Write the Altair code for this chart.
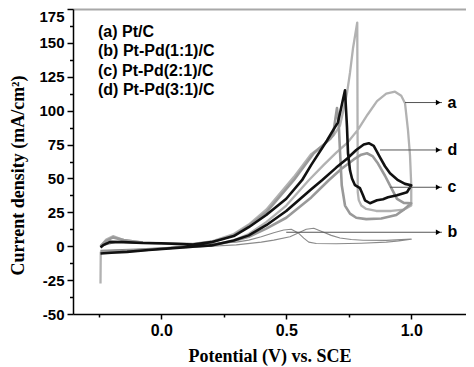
import altair as alt
import pandas as pd

# ---- data: (a) Pt/C ----
a_v = [-0.243, -0.242, -0.2, -0.137, -0.05, 0.06, 0.15, 0.2, 0.29, 0.35, 0.42, 0.5, 0.59, 0.65, 0.7,
       0.743, 0.787, 0.825, 0.863, 0.9, 0.935, 0.96, 0.975, 0.987, 0.995, 1.0, 1.0,
       0.97, 0.92, 0.86, 0.82, 0.8, 0.79, 0.786, 0.784, 0.767, 0.755, 0.743, 0.727, 0.715, 0.69,
       0.65, 0.6, 0.53, 0.42, 0.35, 0.29, 0.2, 0.127, 0.0, -0.073, -0.15, -0.193, -0.22, -0.243]
a_i = [-27.5, -4.5, -4.2, -3.8, -2.6, -1.0, 0.0, 0.8, 4.4, 9.0, 17.7, 30.0, 48.7, 60.0, 69.0,
       76.0, 86.0, 97.0, 107.0, 112.5, 114.0, 111.0, 105.5, 85.5, 67.0, 45.0, 30.0,
       27.0, 26.0, 26.0, 27.5, 30.0, 34.0, 40.0, 165.0, 146.0, 128.0, 113.0, 99.0, 89.0, 82.0,
       75.0, 68.0, 51.0, 27.0, 16.0, 9.0, 3.5, 1.8, 2.2, 2.8, 4.5, 7.4, 5.0, 0.0]

# ---- (b) Pt-Pd(1:1)/C ----
b_v = [-0.243, -0.1, 0.0, 0.1, 0.2, 0.3, 0.4, 0.45, 0.515, 0.55, 0.58, 0.61, 0.647, 0.68, 0.715,
       0.76, 0.807, 0.9, 1.0,
       0.95, 0.9, 0.8, 0.7, 0.62, 0.59, 0.57, 0.55, 0.52, 0.49, 0.45, 0.4, 0.35, 0.3, 0.2, 0.1,
       0.0, -0.1, -0.18, -0.243]
b_i = [-3.0, -2.0, -1.2, -0.5, 0.0, 1.0, 3.0, 4.5, 7.0, 10.0, 12.5, 13.3, 10.5, 8.0, 6.1,
       5.0, 4.4, 4.3, 5.2,
       3.8, 3.0, 2.2, 1.8, 2.0, 3.0, 6.0, 9.5, 12.5, 12.0, 10.0, 7.0, 4.5, 3.0, 2.0, 1.5,
       1.8, 2.2, 3.0, 0.0]

# ---- (c) Pt-Pd(2:1)/C ----
c_v = [-0.243, -0.2, -0.137, -0.05, 0.06, 0.15, 0.2, 0.29, 0.35, 0.42, 0.5, 0.6, 0.67, 0.72, 0.77,
       0.8, 0.823, 0.845, 0.867, 0.895, 0.92, 0.943, 0.97, 1.0,
       0.97, 0.94, 0.88, 0.82, 0.78, 0.755, 0.735, 0.722, 0.715, 0.71, 0.703, 0.695, 0.687, 0.675,
       0.61, 0.53, 0.42, 0.35, 0.29, 0.2, 0.127, 0.0, -0.073, -0.15, -0.193, -0.22, -0.243]
c_i = [-4.0, -3.8, -3.4, -2.4, -1.0, -0.2, 0.5, 3.8, 7.0, 13.0, 21.0, 36.0, 48.7, 57.0, 64.0,
       67.5, 68.6, 66.5, 61.0, 52.0, 43.0, 35.0, 32.0, 31.7,
       27.0, 23.0, 20.5, 20.0, 21.0, 24.0, 30.0, 45.0, 70.0, 90.0, 102.0, 92.0, 82.0, 79.0,
       68.6, 48.7, 25.0, 15.0, 8.0, 3.0, 1.5, 2.0, 2.6, 4.5, 6.5, 4.0, 0.0]

# ---- (d) Pt-Pd(3:1)/C ----
d_v = [-0.243, -0.2, -0.137, -0.05, 0.06, 0.15, 0.2, 0.29, 0.35, 0.42, 0.5, 0.6, 0.643, 0.7, 0.743,
       0.78, 0.81, 0.83, 0.85, 0.875, 0.895, 0.915, 0.947, 0.975, 1.0,
       0.983, 0.943, 0.907, 0.887, 0.863, 0.835, 0.815, 0.807, 0.795, 0.775, 0.763, 0.755, 0.747,
       0.743, 0.735, 0.707, 0.687, 0.663, 0.6, 0.563, 0.5, 0.42, 0.35, 0.29, 0.2, 0.127, 0.0,
       -0.073, -0.15, -0.205, -0.23, -0.243]
d_i = [-5.4, -4.8, -4.2, -2.8, -1.2, 0.0, 0.6, 4.2, 8.0, 15.5, 26.0, 42.0, 48.7, 58.0, 64.5,
       71.0, 75.0, 76.0, 74.0, 65.6, 59.0, 53.8, 48.7, 46.0, 45.0,
       39.8, 37.6, 36.1, 34.7, 33.9, 31.7, 33.9, 37.6, 42.8, 45.0, 50.0, 56.0, 68.6,
       87.8, 115.0, 91.4, 85.5, 78.0, 60.0, 48.7, 35.0, 23.0, 14.0, 7.5, 3.0, 1.2, 2.2,
       2.4, 3.0, 3.2, 1.0, -1.0]

legend_labels = ["(a) Pt/C", "(b) Pt-Pd(1:1)/C", "(c) Pt-Pd(2:1)/C", "(d) Pt-Pd(3:1)/C"]

arrow_names = ["a", "d", "c", "b"]
arrow_level = [106.0, 71.0, 43.5, 10.3]
arrow_start = [0.975, 0.875, 0.915, 0.50]
arrow_tip = 1.123
arrow_head = 1.108
arrow_text = 1.145

rows = []
for name, vs, cs in [("a", a_v, a_i), ("b", b_v, b_i), ("c", c_v, c_i), ("d", d_v, d_i)]:
    for k, (v, c) in enumerate(zip(vs, cs)):
        rows.append({"sample": name, "idx": k, "V": v, "I": c})
df = pd.DataFrame(rows)

adf = pd.DataFrame({"name": arrow_names, "y": arrow_level, "x0": arrow_start,
                    "x1": [arrow_tip] * 4, "xh": [arrow_head] * 4, "xt": [arrow_text] * 4})

xs = alt.Scale(domain=[-0.353, 1.219], nice=False, zero=False)
ys = alt.Scale(domain=[-50, 175], nice=False, zero=False)

SANS = "Liberation Sans"
SERIF = "Liberation Serif"

x_major = alt.Axis(orient="bottom", values=[0, 0.5, 1.0], labelExpr="format(datum.value, '.1f')",
                   labelFont=SANS, labelFontWeight="bold", labelFontSize=16, labelColor="black",
                   tickSize=5, tickWidth=1.5, tickColor="black", domainColor="black", domainWidth=1.5,
                   labelPadding=3, grid=False, title="Potential (V) vs. SCE", titleFont=SERIF,
                   titleFontSize=18, titleFontWeight="bold", titleColor="black",
                   titleY=47, titleBaseline="alphabetic")
y_major = alt.Axis(orient="left", values=[-50, -25, 0, 25, 50, 75, 100, 125, 150, 175],
                   labelExpr="'' + datum.value",
                   labelBaseline={"condition": {"test": "datum.value === 175", "value": "top"},
                                  "value": "middle"},
                   labelFont=SANS, labelFontWeight="bold", labelFontSize=15, labelColor="black",
                   tickSize=6, tickWidth=1.5, tickColor="black", domainColor="black", domainWidth=1.5,
                   labelPadding=3, grid=False, title="Current density (mA/cm²)", titleFont=SERIF,
                   titleFontSize=18, titleFontWeight="bold", titleColor="black",
                   titleX=-55, titleY=166, titleBaseline="middle", titleAlign="center")
x_minor = alt.Axis(orient="bottom", values=[-0.25, 0.25, 0.75], labels=False, domain=False,
                   tickSize=3, tickWidth=1.5, tickColor="black", grid=False, title=None)
y_minor = alt.Axis(orient="left", values=[-37.5, -12.5, 12.5, 37.5, 62.5, 87.5, 112.5, 137.5, 162.5],
                   labels=False, domain=False, tickSize=3.5, tickWidth=1.5, tickColor="black",
                   grid=False, title=None)
x_top = alt.Axis(orient="top", labels=False, ticks=False, domainColor="#a8a8a8", domainWidth=2,
                 grid=False, title=None)


def curve(name, color, width, xaxis=None, yaxis=None):
    return alt.Chart(df).transform_filter(alt.datum.sample == name).mark_line(
        color=color, strokeWidth=width, clip=True, strokeJoin="round").encode(
        x=alt.X("V:Q", scale=xs, axis=xaxis),
        y=alt.Y("I:Q", scale=ys, axis=yaxis),
        order=alt.Order("idx:Q"),
    )


layers = [
    curve("a", "#b2b2b2", 2.3, x_major, y_major),
    curve("c", "#999999", 2.6, x_minor, y_minor),
    curve("b", "#8a8a8a", 1.1, x_top, None),
    curve("d", "#111111", 2.6),
]

arrow_lines = alt.Chart(adf).mark_rule(color="#555555", strokeWidth=1).encode(
    x=alt.X("x0:Q", scale=xs, axis=None), x2="x1:Q", y=alt.Y("y:Q", scale=ys, axis=None))
arrow_heads = alt.Chart(adf).mark_point(shape="triangle-right", filled=True, size=30,
                                        color="black", opacity=1).encode(
    x=alt.X("xh:Q", scale=xs, axis=None), y=alt.Y("y:Q", scale=ys, axis=None))
arrow_labels = alt.Chart(adf).mark_text(font=SANS, fontWeight="bold", fontSize=16, align="left",
                                        baseline="middle", color="black").encode(
    x=alt.X("xt:Q", scale=xs, axis=None), y=alt.Y("y:Q", scale=ys, axis=None), text="name:N")

layers += [arrow_lines, arrow_heads, arrow_labels]

for i, lab in enumerate(legend_labels):
    layers.append(alt.Chart(pd.DataFrame({"t": [lab]})).mark_text(
        font=SANS, fontWeight="bold", fontSize=16, align="left", baseline="middle", color="black"
    ).encode(x=alt.value(25), y=alt.value(22.7 + 19.5 * i), text="t:N"))

chart = alt.layer(*layers).resolve_axis(x="independent", y="independent").properties(
    width=393, height=305,
    autosize=alt.AutoSizeParams(type="none"),
    padding={"left": 65, "top": 1, "right": 0, "bottom": 53},
).configure_view(stroke=None)

chart.save("out.html", embed_options={"renderer": "svg", "actions": False})
